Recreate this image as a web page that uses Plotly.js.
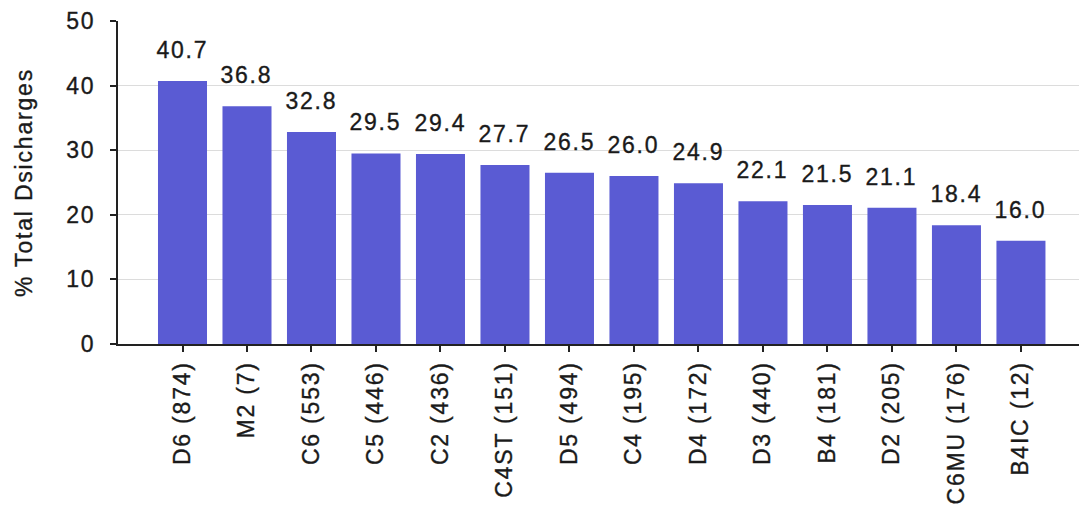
<!DOCTYPE html>
<html>
<head>
<meta charset="utf-8">
<script src="https://cdn.plot.ly/plotly-3.0.1.min.js"></script>
<style>
  html, body { margin: 0; padding: 0; background: #fff; }
  #chart { width: 1079px; height: 505px; }
  #chart svg text { letter-spacing: 1.8px; stroke: #1a1a1a; stroke-width: 0.35px; }
</style>
</head>
<body>
<div id="chart"></div>
<script>
// Share of total discharges by ward (number of discharges in brackets)
const wards = ["D6 (874)", "M2 (7)", "C6 (553)", "C5 (446)", "C2 (436)", "C4ST (151)", "D5 (494)",
               "C4 (195)", "D4 (172)", "D3 (440)", "B4 (181)", "D2 (205)", "C6MU (176)", "B4IC (12)"];
const pctDischarges = [40.7, 36.8, 32.8, 29.5, 29.4, 27.7, 26.5, 26.0, 24.9, 22.1, 21.5, 21.1, 18.4, 16.0];
const yTicks = [0, 10, 20, 30, 40, 50];

const FONT = "'Liberation Sans', Arial, sans-serif";
const TEXT_COLOR = "#1a1a1a";
const barColor = "#5a5bd3";

const trace = {
  type: "bar",
  x: wards,
  y: pctDischarges,
  marker: { color: barColor, line: { width: 0 } },
  width: 0.76,
  hoverinfo: "x+y"
};

// value labels sitting above each bar
const valueLabels = wards.map((w, i) => ({
  x: w,
  y: pctDischarges[i],
  xref: "x",
  yref: "y",
  text: pctDischarges[i].toFixed(1),
  showarrow: false,
  yanchor: "bottom",
  xanchor: "center",
  yshift: 16,
  font: { family: FONT, size: 23, color: TEXT_COLOR }
}));

const layout = {
  width: 1079,
  height: 505,
  margin: { l: 118, r: 0, t: 21, b: 161 },
  paper_bgcolor: "#fff",
  plot_bgcolor: "#fff",
  showlegend: false,
  font: { family: FONT, size: 23, color: TEXT_COLOR },
  xaxis: {
    type: "category",
    range: [-1, 13.9],
    tickangle: -90,
    ticks: "outside",
    ticklen: 6,
    tickwidth: 2,
    tickcolor: "#222",
    showline: true,
    linecolor: "#222",
    linewidth: 2,
    showgrid: false,
    zeroline: false,
    ticklabelstandoff: 0,
    tickfont: { family: FONT, size: 23, color: TEXT_COLOR }
  },
  yaxis: {
    range: [0, 50],
    tickvals: yTicks,
    ticktext: yTicks.map(String),
    ticks: "outside",
    ticklen: 6,
    tickwidth: 2,
    tickcolor: "#222",
    showline: true,
    linecolor: "#222",
    linewidth: 2,
    showgrid: true,
    gridcolor: "#dcdcdc",
    gridwidth: 1,
    zeroline: false,
    ticklabelstandoff: 10,
    tickfont: { family: FONT, size: 23, color: TEXT_COLOR },
    title: { text: "% Total Dsicharges", font: { family: FONT, size: 23, color: TEXT_COLOR }, standoff: 31 }
  },
  annotations: valueLabels
};

Plotly.newPlot("chart", [trace], layout, { displayModeBar: false, staticPlot: true });
</script>
</body>
</html>
